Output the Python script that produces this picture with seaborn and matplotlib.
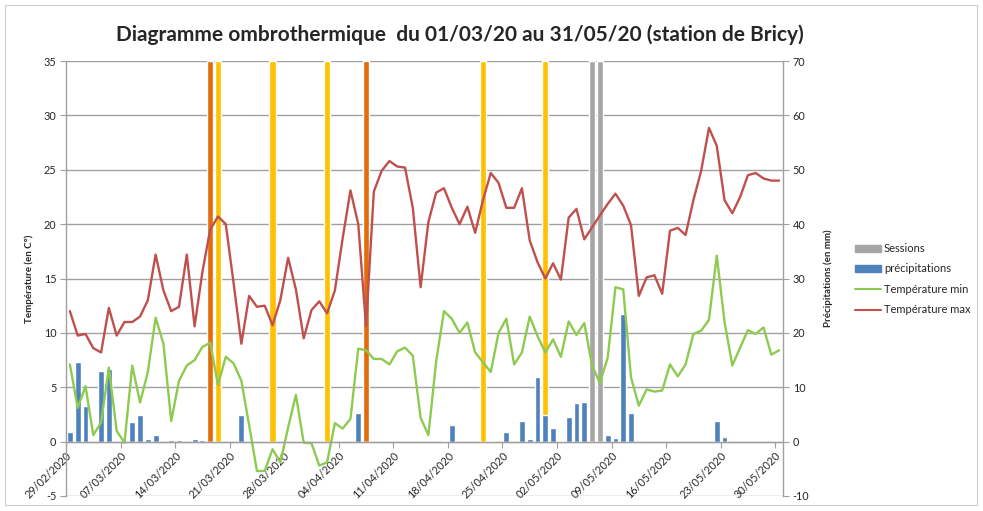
"""Diagramme ombrothermique, station de Bricy, mars-mai 2020."""

import matplotlib
matplotlib.use('Agg')
import matplotlib.pyplot as plt
import numpy as np
import pandas as pd
import seaborn as sns
from matplotlib.patches import Patch, Rectangle
from matplotlib.lines import Line2D

# daily series, 29/02/2020 -> 30/05/2020
dates = pd.date_range('2020-02-29', '2020-05-30', freq='D')

tmax = [12.0, 9.75, 9.9, 8.6, 8.2, 12.3, 9.75, 11.0, 11.0, 11.5,
        13.0, 17.2, 13.9, 12.0, 12.4, 17.2, 10.6, 15.6, 19.5, 20.7,
        20.0, 14.6, 9.0, 13.4, 12.4, 12.5, 10.7, 13.0, 16.9, 14.0,
        9.5, 12.1, 12.9, 11.8, 13.9, 18.7, 23.1, 20.0, 10.6, 23.0,
        24.9, 25.8, 25.3, 25.2, 21.5, 14.2, 20.2, 22.9, 23.3, 21.5,
        20.0, 21.6, 19.2, 22.2, 24.7, 23.8, 21.5, 21.5, 23.3, 18.5,
        16.5, 15.0, 16.4, 14.9, 20.6, 21.4, 18.6, 19.7, 20.8, 21.85,
        22.8, 21.7, 19.9, 13.4, 15.1, 15.3, 13.6, 19.4, 19.65, 19.0,
        22.2, 24.9, 28.85, 27.2, 22.2, 21.0, 22.5, 24.5, 24.7, 24.2,
        24.0, 24.0]

tmin = [7.1, 3.1, 5.1, 0.6, 1.75, 6.8, 1.0, -0.1, 7.0, 3.6,
        6.4, 11.4, 9.0, 1.9, 5.6, 7.0, 7.5, 8.7, 9.1, 5.2,
        7.8, 7.2, 5.6, 1.5, -2.7, -2.7, -0.7, -1.9, 1.3, 4.3,
        -0.1, -0.15, -2.2, -1.9, 1.7, 1.2, 2.1, 8.55, 8.4, 7.6,
        7.6, 7.1, 8.3, 8.65, 7.9, 2.2, 0.6, 7.4, 12.0, 11.3,
        10.0, 10.95, 8.2, 7.3, 6.4, 10.0, 11.3, 7.1, 8.2, 11.5,
        9.7, 8.2, 9.4, 7.8, 11.05, 9.8, 10.9, 7.0, 5.4, 7.7,
        14.2, 14.0, 5.9, 3.3, 4.8, 4.6, 4.7, 7.1, 6.0, 7.1,
        9.9, 10.2, 11.2, 17.1, 11.0, 7.0, 8.65, 10.25, 9.9, 10.5,
        8.0, 8.4]

precip = [1.7, 14.6, 6.6, 0, 12.9, 13.4, 0, 0, 3.7, 4.9,
          0.4, 1.3, 0, 0.3, 0.3, 0, 0.5, 0.3, 0, 0,
          0, 0, 4.9, 0, 0, 0, 0, 0, 0, 0,
          0, 0, 0, 0, 0, 0, 0, 5.3, 0, 0,
          0, 0, 0, 0, 0, 0, 0, 0, 0.2, 3.1,
          0, 0, 0, 0, 0.2, 0, 1.7, 0, 3.8, 0.4,
          11.9, 4.9, 2.5, 0.2, 4.5, 7.1, 7.3, 0, 0, 1.2,
          0.6, 23.5, 5.3, 0, 0, 0, 0, 0, 0, 0,
          0, 0, 0, 3.8, 0.9, 0, 0, 0, 0, 0,
          0, 0]

session_dates = ['2020-03-18', '2020-03-19', '2020-03-26', '2020-04-02',
                 '2020-04-07', '2020-04-22', '2020-04-30', '2020-05-06',
                 '2020-05-07']
session_height = 70  # drawn over the full precipitation scale

# styling
session_colors = ['#E26B0A', '#FFC000', '#FFC000', '#FFC000', '#E26B0A',
                  '#FFC000', '#FFC000', '#A6A6A6', '#A6A6A6']
c_tmax = '#C0504D'
c_tmin = '#8DCB50'
c_rain = '#4F81BD'
c_grid = '#A0A0A0'
c_text = '#262626'

sns.set_style('white')
plt.rcParams['font.family'] = ['Lato', 'DejaVu Sans']
plt.rcParams['axes.unicode_minus'] = False

x = np.arange(len(dates))
sess_x = (pd.to_datetime(session_dates) - dates[0]).days.values

fig = plt.figure(figsize=(9.83, 5.11), dpi=100)
ax2 = fig.add_axes([66 / 983, 1 - 496 / 511, 717 / 983, 435 / 511])
ax = ax2.twinx()
ax.set_zorder(ax2.get_zorder() + 1)
ax.patch.set_visible(False)
ax.xaxis.set_visible(True)

# bars on the precipitation axis (below)
ax2.bar(sess_x, [session_height] * len(sess_x), width=0.78,
        color=session_colors, zorder=2)
ax2.bar(x, precip, width=0.75, color=c_rain, zorder=3)
ax2.set_ylim(-10, 70)
ax2.set_yticks(range(-10, 71, 10))
ax2.set_axisbelow(True)
ax2.yaxis.grid(True, color=c_grid, linewidth=1)
ax2.xaxis.grid(False)

# temperature lines on top
sns.lineplot(x=x, y=tmax, ax=ax, color=c_tmax, linewidth=1.7)
sns.lineplot(x=x, y=tmin, ax=ax, color=c_tmin, linewidth=1.7)
ax.set_ylim(-5, 35)
ax.set_yticks(range(-5, 36, 5))
ax.set_xlim(-0.5, len(dates) - 0.5)

# temperature on the left, precipitation on the right
ax.yaxis.tick_left()
ax.yaxis.set_label_position('left')
ax2.yaxis.tick_right()
ax2.yaxis.set_label_position('right')

ax.spines['bottom'].set_position(('data', 0))
ax.spines['top'].set_visible(False)
ax.spines['right'].set_visible(False)
ax2.spines['top'].set_visible(False)
ax2.spines['left'].set_visible(False)
ax2.spines['bottom'].set_visible(False)
ax2.spines['right'].set_visible(True)
for sp in [ax.spines['bottom'], ax.spines['left'], ax2.spines['right']]:
    sp.set_color(c_grid)
    sp.set_linewidth(1)

ax2.tick_params(axis='x', bottom=False, labelbottom=False, top=False,
                labeltop=False)
ax.tick_params(axis='x', bottom=True, labelbottom=True, top=False,
               labeltop=False, length=4, color=c_grid, pad=2,
               labelsize=7.8, labelcolor=c_text, labelrotation=45)
ax.tick_params(axis='y', length=4, color=c_grid, labelsize=7.8,
               labelcolor=c_text, pad=3)
ax2.tick_params(axis='y', length=4, color=c_grid, labelsize=7.8,
                labelcolor=c_text, pad=3)

# one date label per week, ticks on the day boundaries
tick_days = x[::7]
ax.set_xticks(tick_days - 0.5)
ax.set_xticklabels(dates[::7].strftime('%d/%m/%Y'))
plt.setp(ax.get_xticklabels(), rotation=45, ha='right',
         rotation_mode='anchor')

ax.set_ylabel('Température (en C°)', fontsize=7, fontweight='bold',
              labelpad=7)
ax2.set_ylabel('Précipitations (en mm)', fontsize=7, fontweight='bold',
               labelpad=10)

fig.text(460 / 983, 1 - 35 / 511,
         'Diagramme ombrothermique  du 01/03/20 au 31/05/20 (station de Bricy)',
         ha='center', va='center', fontsize=15, fontweight='bold')

handles = [Patch(color='#A6A6A6'), Patch(color=c_rain),
           Line2D([], [], color=c_tmin, linewidth=1.5),
           Line2D([], [], color=c_tmax, linewidth=1.5)]
labels = ['Sessions', 'précipitations', 'Température min', 'Température max']
fig.legend(handles, labels, loc='upper left',
           bbox_to_anchor=(845 / 983, 1 - 233 / 511), frameon=False,
           fontsize=8, handlelength=2.3, handleheight=0.6,
           handletextpad=0.3, labelspacing=0.85)

# light frame round the chart
fig.patches.append(Rectangle((5 / 983, 6 / 511), 972 / 983, 500 / 511,
                             transform=fig.transFigure, fill=False,
                             edgecolor='#D0D0D0', linewidth=0.8))

fig.savefig('out.png', dpi=100)
